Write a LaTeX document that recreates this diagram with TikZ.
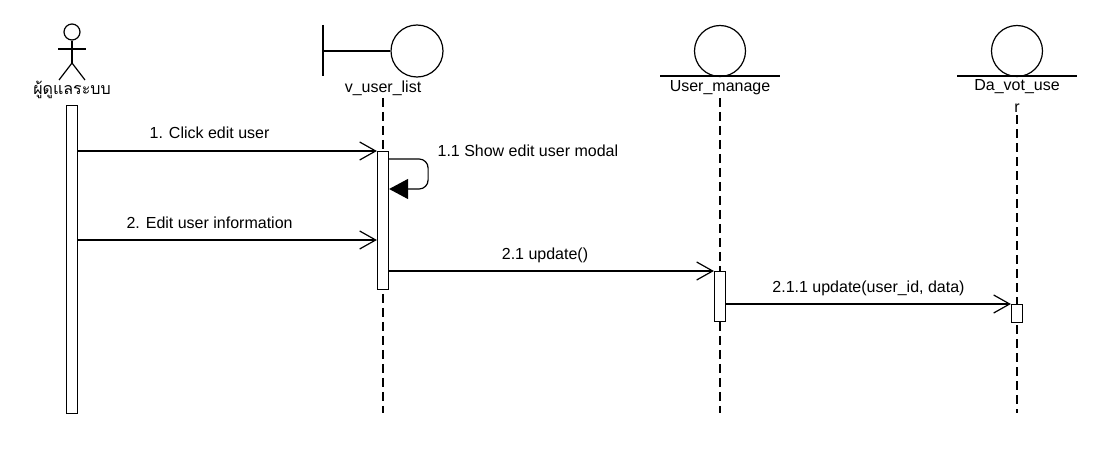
\documentclass[tikz,border=0pt]{standalone}
\usepackage{fontspec}
\setmainfont{Liberation Sans}
\newfontfamily\thaifont[Script=Thai]{Loma}
\usetikzlibrary{arrows.meta,positioning}

\begin{document}
\begin{tikzpicture}[x=1pt,y=-1pt,line width=1.2pt,>={Straight Barb[length=16pt,width=18pt]}]
  \tikzstyle{every node}=[font=\fontsize{16}{22}\selectfont,inner sep=2pt]
  \tikzstyle{lifeline}=[dash pattern=on 9pt off 5pt]
  \tikzstyle{actbar}=[draw,fill=white,minimum width=11pt,inner sep=0pt,anchor=north]
  \tikzstyle{icon}=[circle,draw,inner sep=0pt]
  \tikzstyle{msglabel}=[anchor=base,yshift=12pt]

  \useasboundingbox (0,0) rectangle (1112,452);

  % actor
  \node[icon,minimum size=16pt] (head) at (72,32) {};
  \coordinate (hip) at (72,63);
  \draw (head.south) -- (hip);
  \draw (58,49) -- (86,49);
  \draw (59,80) -- (hip) -- (85,80);
  \node (admin) at (72,90) {\thaifont ผู้ดูแลระบบ};

  % boundary
  \node[icon,minimum size=52pt] (vlist) at (417,51) {};
  \draw (323,25) -- (323,76);
  \draw (323,51) -- (vlist.west);
  \node (vlistlbl) at (383,88) {v\_user\_list};

  % entities
  \node[icon,minimum size=51pt] (umanage) at (720,51) {};
  \draw (660,76) -- (780,76);
  \node (umanagelbl) at (720,88) {User\_manage};

  \node[icon,minimum size=51pt] (dvot) at (1017,51) {};
  \draw (957,76) -- (1077,76);
  \node[align=center,anchor=north] (dvotlbl) at (1017,77) {Da\_vot\_use\\r};

  % lifelines
  \coordinate (vend) at (383,413);
  \coordinate (uend) at (720,413);
  \coordinate (dend) at (1017,413);
  \draw[lifeline] (vlistlbl.south) -- (vend);
  \draw[lifeline] (umanagelbl.south) -- (uend);
  \draw[lifeline] (dvotlbl.south) -- (dend);

  % activations
  \node[actbar,minimum height=308pt] (act0) at (72,105) {};
  \node[actbar,minimum height=138pt] (act1) at (383,151) {};
  \node[actbar,minimum height=50pt] (act2) at (720,271) {};
  \node[actbar,minimum height=18pt] (act3) at (1017,304) {};

  % messages
  \coordinate (m2) at (0,240);
  \coordinate (self1) at (0,159);
  \coordinate (self2) at (0,189);

  \path[->] (act0.east |- act1.north) edge node[msglabel,pos=0.44] (lbl1) {1. Click edit user} (act1.north west)
            (act0.east |- m2) edge node[msglabel,pos=0.44] (lbl2) {2. Edit user information} (act1.west |- m2)
            (act1.east |- act2.north) edge node[msglabel,pos=0.48] (lbl21) {2.1 update()} (act2.north west)
            (act2.east |- act3.north) edge node[msglabel,pos=0.5] (lbl211) {2.1.1 update(user\_id, data)} (act3.north west);

  \draw[-{Triangle[length=19pt,width=20pt]},rounded corners=9pt]
    (act1.east |- self1) -- ++(39,0) -- ++(0,30) -- (act1.east |- self2);
  \node[anchor=base west] (lbl11) at (435,157) {1.1 Show edit user modal};
\end{tikzpicture}
\end{document}
